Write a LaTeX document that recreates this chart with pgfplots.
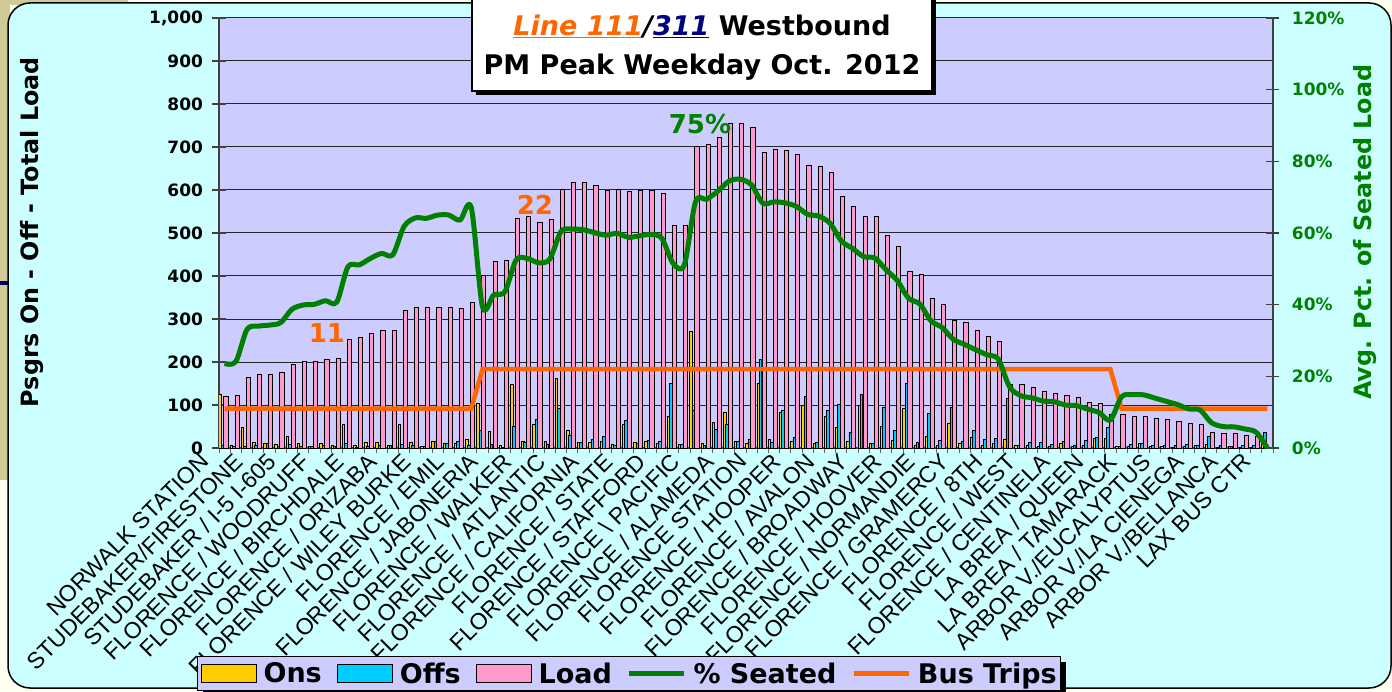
\documentclass[border=0pt]{standalone}
\usepackage{fontspec}
\setmainfont{DejaVu Sans}
\newfontfamily\lblfont{Liberation Sans}
\usepackage{pgfplots}
\pgfplotsset{compat=1.18}
\usepackage{pgfplotstable}
\usetikzlibrary{shadows}

\makeatletter
\tikzset{nopre/.code={\def\tikz@preactions{}}}
\makeatother

\definecolor{panel}{RGB}{204,255,255}
\definecolor{plotbg}{RGB}{204,204,255}
\definecolor{khaki}{RGB}{207,202,150}
\definecolor{cream}{RGB}{255,255,240}
\definecolor{onsc}{RGB}{255,204,0}
\definecolor{offsc}{RGB}{0,204,255}
\definecolor{loadc}{RGB}{255,153,204}
\definecolor{seatc}{RGB}{0,128,0}
\definecolor{tripc}{RGB}{255,102,0}
\definecolor{navyc}{RGB}{0,0,128}

\newcommand\tickfont{\fontsize{17}{19}\selectfont\bfseries}
\newcommand\labfont{\fontsize{23.8}{26}\selectfont\bfseries}
\newcommand\legfont{\fontsize{27}{30}\selectfont\bfseries}
\newcommand\xfont{\lblfont\fontsize{23}{25}\selectfont}
\newcommand\annfont{\fontsize{26}{28}\selectfont\bfseries}
\newcommand\titfont{\fontsize{27}{39}\selectfont\bfseries}

\pgfplotstableread{
x ons offs load seat trips
0 125 5 120 23.6 11
1 5 3 122 24.1 11
2 47 4 165 33.1 11
3 12 6 171 34.0 11
4 10 10 171 34.3 11
5 8 3 176 35.0 11
6 27 8 195 38.7 11
7 10 3 202 39.9 11
8 3 3 202 40.1 11
9 10 6 206 41.1 11
10 6 3 209 40.7 11
11 54 10 253 50.6 11
12 6 2 257 51.1 11
13 13 3 267 52.9 11
14 13 6 274 54.3 11
15 5 5 274 53.9 11
16 56 9 321 61.8 11
17 13 6 328 64.2 11
18 4 4 328 64.1 11
19 16 16 328 65.0 11
20 10 10 328 65.0 11
21 11 15 324 63.6 11
22 19 5 338 67.1 11
23 104 40 402 39.4 22
24 39 8 433 42.7 22
25 5 1 437 43.6 22
26 148 50 535 52.5 22
27 16 13 538 52.9 22
28 54 66 525 51.7 22
29 16 9 532 52.7 22
30 161 91 602 60.4 22
31 42 29 617 61.1 22
32 13 13 617 60.9 22
33 13 20 610 60.1 22
34 16 26 600 59.4 22
35 8 6 602 59.9 22
36 55 64 596 58.8 22
37 13 10 599 59.2 22
38 15 17 600 59.6 22
39 10 16 593 58.5 22
40 73 150 518 51.5 22
41 8 8 518 51.1 22
42 272 87 701 68.7 22
43 10 5 706 69.4 22
44 60 44 722 71.7 22
45 83 55 755 74.5 22
46 16 16 755 75.0 22
47 10 19 746 73.4 22
48 150 205 688 68.3 22
49 19 12 695 68.7 22
50 83 87 692 68.4 22
51 16 24 682 67.4 22
52 99 121 658 65.2 22
53 10 14 654 64.7 22
54 73 87 641 62.7 22
55 47 101 586 57.8 22
56 16 37 563 55.7 22
57 99 125 539 53.4 22
58 10 10 539 53.0 22
59 50 94 494 49.7 22
60 17 41 468 46.7 22
61 91 150 410 41.8 22
62 6 13 403 40.2 22
63 27 81 348 35.5 22
64 5 17 335 33.6 22
65 58 95 297 30.3 22
66 10 16 291 28.9 22
67 24 41 274 27.4 22
68 5 19 260 26.0 22
69 10 23 247 24.8 22
70 19 115 148 17.1 22
71 5 5 148 14.6 22
72 7 13 142 14.0 22
73 3 13 132 13.1 22
74 4 8 128 12.9 22
75 10 16 122 12.0 22
76 3 7 118 11.8 22
77 5 18 105 10.8 22
78 23 24 104 9.9 22
79 23 47 78 7.8 22
80 4 4 78 14.3 11
81 3 8 73 14.9 11
82 10 10 73 14.8 11
83 3 6 70 13.9 11
84 3 7 66 13.0 11
85 2 5 63 12.1 11
86 3 9 57 10.9 11
87 5 6 56 10.6 11
88 8 27 37 7.1 11
89 2 6 33 6.0 11
90 3 3 33 5.9 11
91 2 5 30 5.3 11
92 2 5 27 4.4 11
93 10 37 0 0.0 11
}\routedata

\pgfplotsset{
  bigarea/.style={legend image code/.code={\draw[nopre,##1] (0pt,-9pt) rectangle (55pt,9pt);}},
  bigline/.style={legend image code/.code={\draw[nopre,##1] (0pt,0pt) -- (55pt,0pt);}},
}

\begin{document}
\begin{tikzpicture}
\useasboundingbox (0pt,0pt) rectangle (1392pt,691pt);
\fill[cream] (0pt,0pt) rectangle (1392pt,691pt);
\fill[khaki] (0pt,211pt) rectangle (10pt,691pt);
\fill[khaki] (0pt,686pt) rectangle (128pt,691pt);
\fill[black!60!blue] (0pt,406pt) rectangle (9pt,410pt);
\filldraw[fill=panel, draw=black, line width=1.5pt, rounded corners=22pt] (8pt,3pt) rectangle (1391pt,688pt);

\begin{axis}[
  at={(219pt,243pt)}, anchor=south west,
  scale only axis, width=1054pt, height=430pt,
  xmin=-0.5, xmax=93.5, ymin=0, ymax=1000,
  axis background/.style={fill=plotbg},
  axis x line*=bottom, axis y line*=left,
  axis line style={draw=black!75, line width=1.3pt},
  ytick={0,100,...,1000},
  yticklabels={0,100,200,300,400,500,600,700,800,900,{1,000}},
  yticklabel style={font=\tickfont, xshift=-6pt},
  ymajorgrids, grid style={black!85, line width=1pt},
  major tick length=13pt, tick align=center,
  tick style={draw=black!75, line width=1.2pt},
  xtick={0,3,...,93},
  xticklabels={NORWALK STATION,STUDEBAKER/FIRESTONE,STUDEBAKER / I-5 I-605,FLORENCE / WOODRUFF,FLORENCE / BIRCHDALE,FLORENCE / ORIZABA,FLORENCE / WILEY BURKE,FLORENCE / EMIL,FLORENCE / JABONERIA,FLORENCE / WALKER,FLORENCE / ATLANTIC,FLORENCE / CALIFORNIA,FLORENCE / STATE,FLORENCE / STAFFORD,FLORENCE \textbackslash{} PACIFIC,FLORENCE / ALAMEDA,FLORENCE STATION,FLORENCE / HOOPER,FLORENCE / AVALON,FLORENCE / BROADWAY,FLORENCE / HOOVER,FLORENCE / NORMANDIE,FLORENCE / GRAMERCY,FLORENCE / 8TH,FLORENCE / WEST,FLORENCE / CENTINELA,LA BREA / QUEEN,LA BREA / TAMARACK,ARBOR V./EUCALYPTUS,ARBOR V./LA CIENEGA,ARBOR V./BELLANCA,LAX BUS CTR},
  xtick style={draw=none},
  xticklabel style={font=\xfont, xshift=-26pt, yshift=3pt, rotate=45, anchor=north east, inner sep=0pt},
  extra x ticks={-0.5,0.5,...,93.5},
  extra x tick labels={},
  extra x tick style={tick align=outside, major tick length=5pt, xtick style={draw=black!60, line width=0.8pt}, grid=none},
  ylabel={Psgrs On - Off - Total Load},
  every axis y label/.style={at={(axis description cs:-0.1774,0.502)}, rotate=90, anchor=center, font=\labfont},
]
\addplot[ybar, bar width=2.6pt, bar shift=-4.5pt, fill=onsc, draw=black, line width=0.8pt] table[x=x,y=ons]{\routedata};
\addplot[ybar, bar width=2.6pt, bar shift=-2.2pt, fill=offsc, draw=black, line width=0.8pt] table[x=x,y=offs]{\routedata};
\addplot[ybar, bar width=4.2pt, bar shift=1.3pt, fill=loadc, draw=black, line width=0.8pt] table[x=x,y=load]{\routedata};
\end{axis}

\begin{axis}[
  at={(219pt,243pt)}, anchor=south west,
  scale only axis, width=1054pt, height=430pt,
  xmin=-0.5, xmax=93.5, ymin=0, ymax=120,
  axis x line=none, axis y line*=right,
  axis line style={draw=black!75, line width=1.3pt},
  ytick={0,20,...,120},
  yticklabels={0\%,20\%,40\%,60\%,80\%,100\%,120\%},
  yticklabel style={font=\tickfont, text=seatc, xshift=9pt},
  major tick length=13pt, tick align=center,
  tick style={draw=black!75, line width=1.2pt},
  ylabel={Avg. Pct. of Seated Load},
  every axis y label/.style={at={(axis description cs:1.0873,0.502)}, rotate=90, anchor=center, font=\labfont, text=seatc},
  legend columns=5,
  legend style={
    at={(axis description cs:-0.0209,-0.4837)}, anchor=north west,
    fill=plotbg, draw=black, line width=1.2pt,
    font=\legfont, inner xsep=3pt, inner ysep=5pt,
    nodes={inner sep=1pt},
    /tikz/every even column/.append style={column sep=14pt},
    /tikz/every odd column/.append style={column sep=6pt},
    drop shadow={shadow xshift=5pt, shadow yshift=-5pt, fill=black, opacity=1},
  },
  clip=false,
]
\addlegendimage{bigarea, fill=onsc, draw=black, line width=1pt}
\addlegendentry{Ons}
\addlegendimage{bigarea, fill=offsc, draw=black, line width=1pt}
\addlegendentry{Offs}
\addlegendimage{bigarea, fill=loadc, draw=black, line width=1pt}
\addlegendentry{Load}
\addlegendimage{bigline, draw=seatc, line width=4.5pt}
\addlegendentry{\% Seated}
\addlegendimage{bigline, draw=tripc, line width=4.5pt}
\addlegendentry{Bus Trips}
\addplot[tripc, line width=4.5pt, forget plot] table[x=x,y=trips]{\routedata};
\addplot[seatc, line width=5pt, smooth, line join=round, forget plot] table[x=x,y=seat]{\routedata};
\node[font=\annfont, text=tripc] at (axis cs:9.13,32.2) {11};
\node[font=\annfont, text=tripc] at (axis cs:27.68,67.95) {22};
\node[font=\annfont, text=seatc] at (axis cs:42.4,90.5) {75\%};
\end{axis}

\node[draw=black, line width=1.2pt, fill=white, minimum width=460pt, minimum height=100pt, drop shadow={shadow xshift=4pt, shadow yshift=-4pt, fill=black, opacity=1}] at (702pt,650pt) {};
\node[font=\titfont, align=center] at (702pt,643.5pt) {{\itshape\color{tripc}\underline{Line 111}}{\itshape/}{\itshape\color{navyc}\underline{311}} Westbound\\PM Peak Weekday Oct. 2012};
\end{tikzpicture}
\end{document}
